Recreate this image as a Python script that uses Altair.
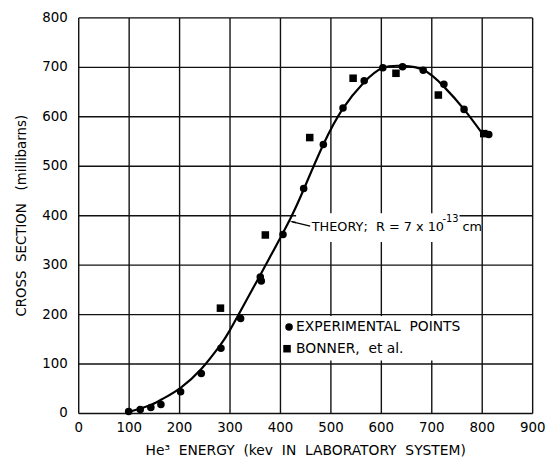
import altair as alt
import pandas as pd

# Experimental points (circles)
exp_x = [100, 123, 144, 164, 203, 244, 283, 322, 361, 363, 406, 447, 486, 525, 567, 604, 643, 684, 725, 765, 814]
exp_y = [3, 7, 11, 17, 43, 80, 131, 191, 275, 267, 361, 454, 543, 617, 672, 698, 700, 693, 665, 614, 563]

# Bonner et al. (squares)
bon_x = [282, 371, 459, 545, 630, 714, 804]
bon_y = [212, 360, 557, 677, 687, 643, 565]

# Theory curve, R = 7 x 10^-13 cm
th_x = [100, 120, 146, 170, 203, 244, 280, 300, 340, 380, 420, 447, 486, 525, 565, 604, 643, 684, 725, 765, 802]
th_y = [2, 8, 17, 30, 51, 89, 135, 166, 240, 315, 392, 452, 543, 616, 667, 698, 702, 694, 660, 614, 564]

series = ["EXPERIMENTAL POINTS", "BONNER, et al."]
shapes = ["circle", "square"]

FONT = "DejaVu Sans"
NB = "\u00a0"
GRID = "#111111"

pts = pd.DataFrame(
    {"x": exp_x + bon_x, "y": exp_y + bon_y,
     "series": [series[0]] * len(exp_x) + [series[1]] * len(bon_x)}
)
theory = pd.DataFrame({"x": th_x, "y": th_y})

xscale = alt.Scale(domain=[0, 900], nice=False, zero=False)
yscale = alt.Scale(domain=[0, 800], nice=False, zero=False)
shape_scale = alt.Scale(domain=series, range=shapes)

xaxis = alt.Axis(
    values=list(range(0, 901, 100)), grid=True, gridColor=GRID, gridWidth=1.4,
    gridOpacity=1, ticks=False, domain=False, labelFont=FONT, labelFontSize=13.5,
    labelColor="black", labelPadding=8, labelFlush=False,
    title=f"He³{NB}{NB}ENERGY{NB}{NB}(kev{NB}{NB}IN{NB}{NB}LABORATORY{NB}{NB}SYSTEM)",
    titleFont=FONT, titleFontSize=14, titleFontWeight="normal", titleColor="black",
    titlePadding=9,
)
yaxis = alt.Axis(
    values=list(range(0, 801, 100)), grid=True, gridColor=GRID, gridWidth=1.4,
    gridOpacity=1, ticks=False, domain=False, labelFont=FONT, labelFontSize=13.5,
    labelColor="black", labelPadding=11, labelFlush=False,
    title=f"CROSS{NB}{NB}SECTION{NB}{NB}{NB}(millibarns)",
    titleFont=FONT, titleFontSize=13.5, titleFontWeight="normal", titleColor="black",
    titlePadding=14,
)

base = alt.Chart(theory)

# white boxes behind the labels (break the grid)
boxes = pd.DataFrame({"x": [402, 432], "x2": [798, 756], "y": [106, 346], "y2": [196, 404]})
box_layer = alt.Chart(boxes).mark_rect(color="white").encode(
    x=alt.X("x:Q", scale=xscale, axis=xaxis), x2="x2:Q",
    y=alt.Y("y:Q", scale=yscale, axis=yaxis), y2="y2:Q",
)

line = base.mark_line(color="black", strokeWidth=2.2, interpolate="natural").encode(
    x=alt.X("x:Q", scale=xscale), y=alt.Y("y:Q", scale=yscale)
)

points = alt.Chart(pts).mark_point(filled=True, opacity=1, color="black", size=58).encode(
    x=alt.X("x:Q", scale=xscale), y=alt.Y("y:Q", scale=yscale),
    shape=alt.Shape("series:N", scale=shape_scale, legend=None),
)

# manual legend
leg = pd.DataFrame({
    "x": [418, 414], "y": [174, 130], "tx": [432, 432],
    "series": series,
    "label": [f"EXPERIMENTAL{NB}{NB}POINTS", f"BONNER,{NB}{NB}et{NB}al."],
})
leg_sym = alt.Chart(leg).mark_point(filled=True, opacity=1, color="black", size=58).encode(
    x=alt.X("x:Q", scale=xscale), y=alt.Y("y:Q", scale=yscale),
    shape=alt.Shape("series:N", scale=shape_scale, legend=None),
)
leg_txt = alt.Chart(leg).mark_text(
    align="left", baseline="middle", font=FONT, fontSize=14, color="black"
).encode(
    x=alt.X("tx:Q", scale=xscale), y=alt.Y("y:Q", scale=yscale),
    text=alt.Text("label:N"),
)

# theory annotation
ann = pd.DataFrame({
    "x": [463, 722, 762], "y": [377, 393, 377],
    "t": [f"THEORY;{NB}{NB}R{NB}={NB}7{NB}x{NB}10", "-13", "cm"],
    "fs": [13, 10, 13],
})
ann_txt = alt.Chart(ann).mark_text(
    align="left", baseline="middle", font=FONT, color="black"
).encode(
    x=alt.X("x:Q", scale=xscale), y=alt.Y("y:Q", scale=yscale),
    text="t:N", size=alt.Size("fs:Q", scale=None, legend=None),
)
lead = pd.DataFrame({"x": [460], "y": [378], "x2": [423], "y2": [387]})
lead_line = alt.Chart(lead).mark_rule(color="black", strokeWidth=1.2).encode(
    x=alt.X("x:Q", scale=xscale), y=alt.Y("y:Q", scale=yscale), x2="x2:Q", y2="y2:Q"
)
head = pd.DataFrame({"x": [427], "y": [386]})
lead_head = alt.Chart(head).mark_point(
    shape="wedge", angle=284, filled=True, opacity=1, color="black", size=60
).encode(x=alt.X("x:Q", scale=xscale), y=alt.Y("y:Q", scale=yscale))

chart = alt.layer(
    box_layer, line, points, leg_sym, leg_txt, lead_line, lead_head, ann_txt
).properties(
    width=459, height=400,
    autosize=alt.AutoSizeParams(type="none"),
    padding={"left": 71, "top": 7, "right": 14, "bottom": 43},
).configure_view(stroke=GRID, strokeWidth=1.6).configure(background="white")

chart.save("out.html", embed_options={"renderer": "svg", "actions": False})
